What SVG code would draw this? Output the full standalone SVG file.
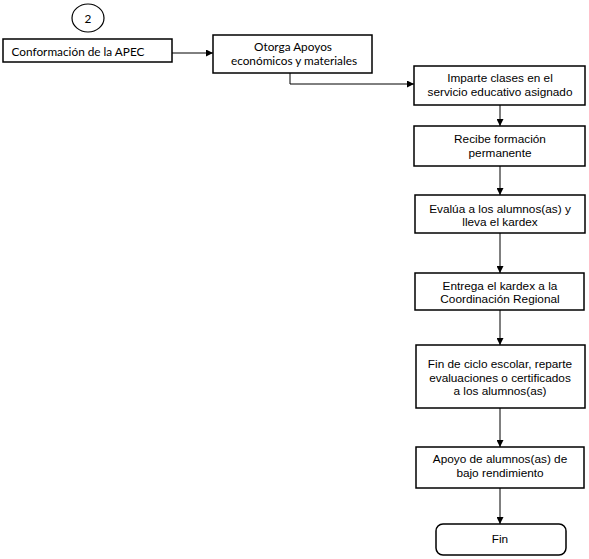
<svg xmlns="http://www.w3.org/2000/svg" width="589" height="559" viewBox="0 0 589 559">
<style>
.box{fill:#fff;stroke:#000;stroke-width:1.5}
.t{font-family:"Liberation Sans",Arial,sans-serif;font-size:11.8px;fill:#000;text-anchor:middle}
.g{font-family:Lato,"Open Sans",sans-serif;font-size:11.8px;fill:#000;text-anchor:middle}
.c{fill:none;stroke:#000;stroke-width:1}
</style>
<defs>
<marker id="ah" viewBox="0 0 10 10" refX="10" refY="5" markerWidth="7" markerHeight="7" orient="auto" markerUnits="userSpaceOnUse">
<path d="M0,0 L10,5 L0,10 z" fill="#000"/>
</marker>
</defs>
<rect width="589" height="559" fill="#fff"/>
<g id="connectors">
<path class="c" d="M172,53 H213" marker-end="url(#ah)"/>
<path class="c" d="M290,73 V84 H414" marker-end="url(#ah)"/>
<path class="c" d="M500,105 V126" marker-end="url(#ah)"/>
<path class="c" d="M500,166 V195" marker-end="url(#ah)"/>
<path class="c" d="M500,233 V273" marker-end="url(#ah)"/>
<path class="c" d="M500,310 V345" marker-end="url(#ah)"/>
<path class="c" d="M500,408 V447" marker-end="url(#ah)"/>
<path class="c" d="M500,488 V524" marker-end="url(#ah)"/>
</g>
<g id="n2">
<ellipse cx="88" cy="18" rx="16" ry="14" fill="#fff" stroke="#000" stroke-width="1.2"/>
<text class="g" x="88" y="23">2</text>
</g>
<g id="n-apec">
<rect class="box" x="3" y="39" width="169" height="23"/>
<text class="g" x="78" y="56">Conformación de la APEC</text>
</g>
<g id="n-otorga">
<rect class="box" x="213" y="35" width="159" height="38"/>
<text class="g" x="293" y="51">Otorga Apoyos</text>
<text class="g" x="294" y="65">económicos y materiales</text>
</g>
<g id="n-imparte">
<rect class="box" x="414" y="66" width="171" height="39"/>
<text class="t" x="500" y="82">Imparte clases en el</text>
<text class="t" x="500" y="96">servicio educativo asignado</text>
</g>
<g id="n-recibe">
<rect class="box" x="414" y="126" width="171" height="40"/>
<text class="t" x="500" y="143">Recibe formación</text>
<text class="t" x="500" y="157">permanente</text>
</g>
<g id="n-evalua">
<rect class="box" x="415" y="195" width="170" height="38"/>
<text class="t" x="500" y="213">Evalúa a los alumnos(as) y</text>
<text class="t" x="500" y="226">lleva el kardex</text>
</g>
<g id="n-entrega">
<rect class="box" x="415" y="273" width="169" height="37"/>
<text class="t" x="500" y="290">Entrega el kardex a la</text>
<text class="t" x="500" y="303">Coordinación Regional</text>
</g>
<g id="n-fin-ciclo">
<rect class="box" x="416" y="345" width="169" height="63"/>
<text class="t" x="500" y="368">Fin de ciclo escolar, reparte</text>
<text class="t" x="500" y="382">evaluaciones o certificados</text>
<text class="t" x="500" y="395">a los alumnos(as)</text>
</g>
<g id="n-apoyo">
<rect class="box" x="416" y="447" width="168" height="41"/>
<text class="t" x="500" y="463">Apoyo de alumnos(as) de</text>
<text class="t" x="500" y="477">bajo rendimiento</text>
</g>
<g id="n-fin">
<rect class="box" x="436" y="524" width="130" height="31" rx="7"/>
<text class="t" x="500" y="543">Fin</text>
</g>
</svg>
